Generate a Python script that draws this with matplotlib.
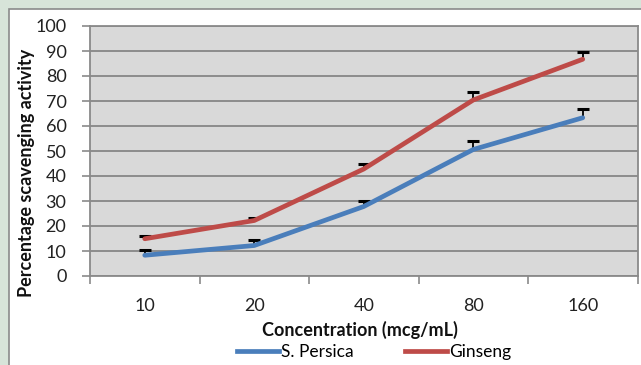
import matplotlib
matplotlib.use("Agg")
import matplotlib.pyplot as plt
import numpy as np
from matplotlib.patches import Rectangle
from matplotlib.lines import Line2D

categories = ["10", "20", "40", "80", "160"]
persica = [8.3, 12.2, 27.8, 50.6, 63.3]
persica_err = [2.0, 2.4, 2.4, 3.3, 3.7]
ginseng = [14.9, 22.2, 42.8, 70.4, 86.7]
ginseng_err = [1.3, 1.0, 2.2, 3.2, 3.0]
yticks = list(range(0, 101, 10))

plt.rcParams['font.family'] = ['Lato', 'DejaVu Sans']

W, H = 641, 365
fig = plt.figure(figsize=(W / 100, H / 100), dpi=100)
fig.patch.set_facecolor('#d7e4d9')
fig.patches.append(Rectangle((8.5 / W, -0.01), 1.02 - 8.5 / W, 1.01 - 9.5 / H, transform=fig.transFigure,
                             facecolor='white', edgecolor='#8a8a8a', linewidth=1.2, zorder=-10))

ax = fig.add_axes([90 / W, 1 - 276 / H, (637.5 - 90) / W, 250 / H])
ax.set_facecolor('#d9d9d9')
x = np.arange(len(categories))

for vals, errs, col in [(persica, persica_err, '#4a7ebb'), (ginseng, ginseng_err, '#be4b48')]:
    v = np.array(vals)
    e = np.array(errs)
    ax.vlines(x, v, v + e, color='black', lw=1.3, zorder=2)
    ax.plot(x, v + e, ls='none', marker='_', ms=8, mew=2.2, color='black', zorder=2)
    ax.plot(x, v, color=col, lw=3.4, solid_capstyle='round', zorder=3)

ax.set_xlim(-0.5, len(categories) - 0.5)
ax.set_ylim(0, 100)
ax.set_yticks(yticks)
ax.set_yticklabels([str(v) for v in yticks], fontsize=13, color='#222222')
ax.set_xticks(x)
ax.set_xticklabels(categories, fontsize=13, color='#222222')
ax.set_xticks(np.arange(-0.5, len(categories), 1.0), minor=True)
ax.tick_params(axis='x', which='major', length=0, pad=16)
ax.tick_params(axis='x', which='minor', length=6, width=1.2, color='#8a8a8a', direction='out')
ax.tick_params(axis='y', which='major', length=6, width=1.2, color='#8a8a8a', direction='out', pad=11)
ax.grid(axis='y', color='#868686', lw=1.3, zorder=1)
ax.set_axisbelow(True)
for s in ax.spines.values():
    s.set_color('#8a8a8a')
    s.set_linewidth(1.3)

fig.text(360 / W, 1 - 330 / H, 'Concentration (mcg/mL)', ha='center', va='center',
         fontsize=13, fontweight='bold', color='#111111')
fig.text(27 / W, 1 - 173 / H, 'Percentage scavenging activity', ha='center', va='center',
         rotation=90, fontsize=13, fontweight='bold', color='#111111')

handles = [Line2D([], [], color='#4a7ebb', lw=3.4), Line2D([], [], color='#be4b48', lw=3.4)]
fig.legend(handles, ['S. Persica', 'Ginseng'], loc='center', bbox_to_anchor=(374 / W, 1 - 352 / H),
           ncol=2, frameon=False, fontsize=12.5, handlelength=2.4, handletextpad=0.1,
           columnspacing=3.0, borderaxespad=0, borderpad=0)

fig.savefig('out.png', dpi=100)
